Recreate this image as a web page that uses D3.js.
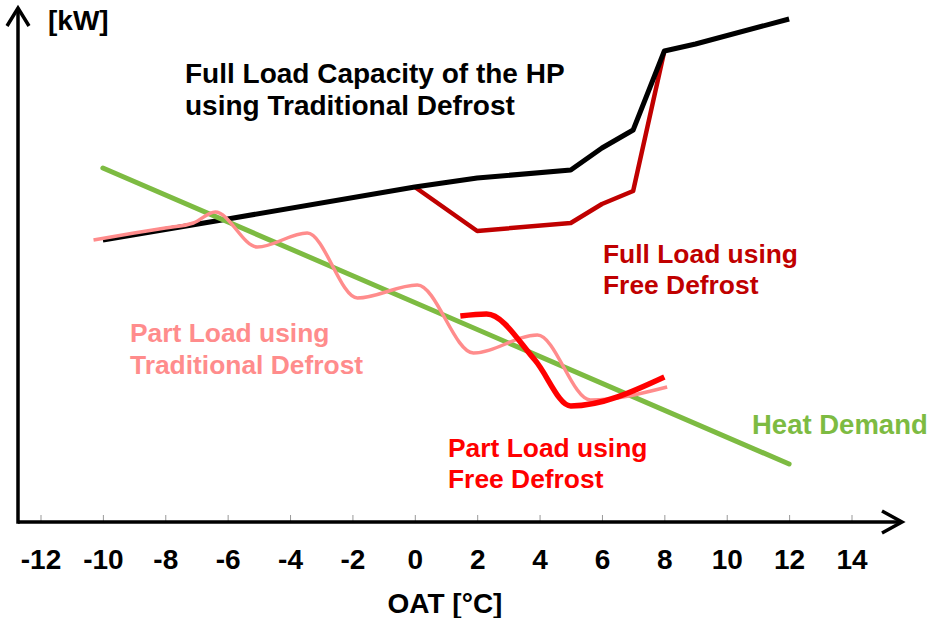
<!DOCTYPE html>
<html>
<head>
<meta charset="utf-8">
<script src="https://cdn.jsdelivr.net/npm/d3@7"></script>
<style>
  html, body { margin: 0; padding: 0; background: #fff; }
  svg text { font-family: "Liberation Sans", Arial, sans-serif; font-weight: bold; }
</style>
</head>
<body>
<svg id="chart" width="930" height="618"></svg>
<script>
// ---------- data ----------
const xTicks = [-12, -10, -8, -6, -4, -2, 0, 2, 4, 6, 8, 10, 12, 14];

const fullTradX = [-10, -6, 0, 2, 5, 6, 7, 8, 9, 12];
const fullTradY = [28.2, 30.3, 33.5, 34.4, 35.2, 37.4, 39.2, 47.1, 47.8, 50.3];

const fullFreeX = [0, 2, 5, 6, 7, 8];
const fullFreeY = [33.5, 29.1, 29.9, 31.8, 33.1, 47.1];

const demandX = [-10, 12];
const demandY = [35.4, 5.8];

const partTradX = [-10.3, -9, -8, -7.1, -6.4, -5.05, -3.45, -1.84, 0.08, 1.88, 3.93, 5.63, 8.09];
const partTradY = [28.2, 28.9, 29.4, 29.9, 31.0, 27.5, 28.9, 22.4, 23.7, 16.9, 18.7, 12.2, 13.5];

const partFreeX = [1.46, 2.3, 3.85, 5.0, 8.0];
const partFreeY = [20.6, 20.8, 16.2, 11.6, 14.5];

// ---------- layout ----------
const axisX = 18, axisY = 522, arrowRight = 902, arrowTop = 8;
const FONT = 28, FONT_SERIES = 26.4;

const svg = d3.select("#chart");
const x = d3.scaleLinear().domain([-12, 14]).range([40.5, 851.5]);
const y = d3.scaleLinear().domain([0, 50]).range([522, 22]);

const zip = (xs, ys) => xs.map((v, i) => [v, ys[i]]);

// ---------- axes ----------
const xAxis = d3.axisBottom(x).tickValues(xTicks).tickSize(-7).tickPadding(27)
  .tickFormat(d => d);
const gx = svg.append("g").attr("transform", `translate(0,${axisY})`).call(xAxis);
gx.select(".domain").remove();
gx.selectAll(".tick line").attr("stroke", "#999").attr("stroke-width", 1);
gx.selectAll(".tick text").attr("font-size", FONT).attr("fill", "#000")
  .style("font-family", "'Liberation Sans', Arial, sans-serif").style("font-weight", "bold");

// axis lines with arrows
svg.append("path")
  .attr("d", `M${axisX},${axisY} H${arrowRight - 2}`)
  .attr("stroke", "#000").attr("stroke-width", 3.5).attr("fill", "none");
svg.append("path")
  .attr("d", `M${axisX},${axisY + 1.7} V${arrowTop + 2}`)
  .attr("stroke", "#000").attr("stroke-width", 3.5).attr("fill", "none");
svg.append("path")
  .attr("d", `M${arrowRight - 20},${axisY - 11} L${arrowRight},${axisY} L${arrowRight - 20},${axisY + 11}`)
  .attr("stroke", "#000").attr("stroke-width", 3.5).attr("fill", "none");
svg.append("path")
  .attr("d", `M${axisX - 11},${arrowTop + 18} L${axisX},${arrowTop} L${axisX + 11},${arrowTop + 18}`)
  .attr("stroke", "#000").attr("stroke-width", 3.5).attr("fill", "none");

// ---------- lines ----------
const linLine = d3.line().x(d => x(d[0])).y(d => y(d[1]));
const smoothLine = d3.line().x(d => x(d[0])).y(d => y(d[1])).curve(d3.curveMonotoneX);

svg.append("path").datum(zip(fullFreeX, fullFreeY)).attr("d", linLine)
  .attr("fill", "none").attr("stroke", "#C00000").attr("stroke-width", 4.5)
  .attr("stroke-linejoin", "round");
svg.append("path").datum(zip(fullTradX, fullTradY)).attr("d", linLine)
  .attr("fill", "none").attr("stroke", "#000").attr("stroke-width", 5)
  .attr("stroke-linejoin", "round");
svg.append("path").datum(zip(demandX, demandY)).attr("d", linLine)
  .attr("fill", "none").attr("stroke", "#7DBB42").attr("stroke-width", 5)
  .attr("stroke-linecap", "round");
svg.append("path").datum(zip(partTradX, partTradY)).attr("d", smoothLine)
  .attr("fill", "none").attr("stroke", "#FF8C8C").attr("stroke-width", 3.5);
svg.append("path").datum(zip(partFreeX, partFreeY)).attr("d", smoothLine)
  .attr("fill", "none").attr("stroke", "#FF0000").attr("stroke-width", 5.5);

// ---------- texts ----------
function label(lines, px, py, color, size, lh = 32) {
  const t = svg.append("text").attr("x", px).attr("y", py)
    .attr("fill", color).attr("font-size", size);
  lines.forEach((s, i) => t.append("tspan").attr("x", px).attr("y", py + i * lh).text(s));
}
label(["[kW]"], 48, 30, "#000", FONT);
label(["Full Load Capacity of the HP", "using Traditional Defrost"], 185, 83, "#000", FONT);
label(["Full Load using", "Free Defrost"], 603, 263, "#C00000", FONT_SERIES, 31);
label(["Part Load using", "Traditional Defrost"], 130, 342, "#FF8C8C", FONT_SERIES, 32);
label(["Heat Demand"], 752, 434, "#7DBB42", 27.5);
label(["Part Load using", "Free Defrost"], 448, 457, "#FF0000", FONT_SERIES, 31);

svg.append("text").attr("x", (x(-12) + x(14)) / 2 - 1).attr("y", 613)
  .attr("text-anchor", "middle").attr("font-size", FONT).attr("fill", "#000")
  .text("OAT [°C]");
</script>
</body>
</html>
